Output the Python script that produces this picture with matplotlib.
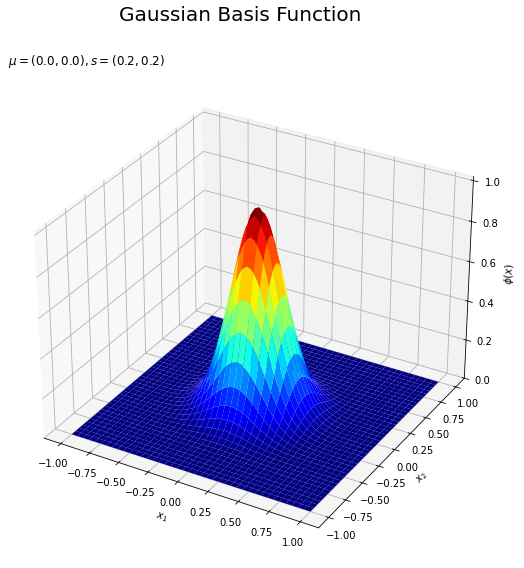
import numpy as np
import matplotlib
matplotlib.use('Agg')
import matplotlib.pyplot as plt

# profile of phi read along x1 = 0, from the centre out to the edge, step 0.025
half_profile = [1.0, 0.992, 0.969, 0.932, 0.882, 0.823, 0.755, 0.682, 0.607, 0.531,
                0.458, 0.389, 0.325, 0.267, 0.216, 0.172, 0.135, 0.105, 0.08, 0.06,
                0.044, 0.032, 0.023, 0.016, 0.011, 0.0076, 0.0051, 0.0034, 0.0022, 0.0014,
                0.0009, 0.0005, 0.0003, 0.0002, 0.0001, 0.0, 0.0, 0.0, 0.0, 0.0, 0.0]
title = 'Gaussian Basis Function'
subtitle = r'$\mu = (0.0, 0.0), s = (0.2, 0.2)$'

half = np.array(half_profile)
profile = np.concatenate([half[:0:-1], half])
x1 = np.linspace(-1, 1, len(profile))
X1, X2 = np.meshgrid(x1, x1)
Z = np.outer(profile, profile)

fig = plt.figure(figsize=(524 / 72, 568 / 72), dpi=72)
ax = fig.add_axes([-0.02, 0.0165, 1.0, 0.86], projection='3d')
ax.plot_surface(X1, X2, Z, cmap='jet', rstride=2, cstride=2, linewidth=0)
ax.set_xlabel('$x_1$', fontsize=10)
ax.set_ylabel('$x_2$', fontsize=10)
ax.set_zlabel(r'$\phi(x)$', fontsize=10)
ax.set_zlim(0, 1.02)
ax.tick_params(labelsize=10)
fig.suptitle(title, fontsize=20, x=0.459, y=0.99, ha='center')
fig.text(0.015, 0.885, subtitle, fontsize=12)
fig.savefig('out.png')
